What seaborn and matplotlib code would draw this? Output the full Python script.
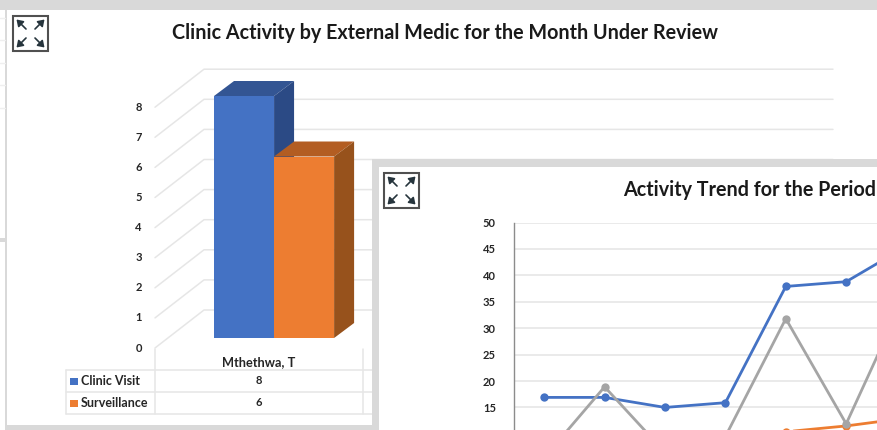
#!/usr/bin/env python3
"""Clinic activity dashboard crop: 3D style bar chart with a line chart panel on top."""
import pandas as pd
import matplotlib
matplotlib.use('Agg')
import matplotlib.pyplot as plt
from matplotlib.patches import Polygon, Rectangle
import seaborn as sns

W, H = 877, 430
BLUE, ORANGE, GREY = '#4472C4', '#ED7D31', '#A5A5A5'
LINE = '#E6E6E6'
CHROME = '#D9D9D9'
INK = '#262626'

# bar chart data
medics = ['Mthethwa, T']
activity = ['Clinic Visit', 'Surveillance']
activity_counts = [8, 6]
bar_ticks = [0, 1, 2, 3, 4, 5, 6, 7, 8]

# line chart data (first orange points are hidden below the crop, estimated)
periods = [0, 1, 2, 3, 4, 5, 6]
clinic_trend = [16.9, 16.9, 15.0, 15.9, 37.9, 38.8, 45.5]
surveillance_trend = [5, 6, 8, 9, 10.4, 11.5, 13]
other_trend = [5.5, 18.9, 6.5, 9.5, 31.8, 11.9, 36.8]
trend_ticks = [15, 20, 25, 30, 35, 40, 45, 50]


def px_axes(fig, left, top, right, bottom, zorder):
    # axes placed by image pixels, y measured from the top
    ax = fig.add_axes([left / W, 1 - bottom / H, (right - left) / W, (bottom - top) / H], zorder=zorder)
    return ax


def overlay(fig, zorder):
    ax = px_axes(fig, 0, 0, W, H, zorder)
    ax.set_xlim(0, W)
    ax.set_ylim(H, 0)
    ax.axis('off')
    ax.patch.set_alpha(0)
    return ax


def expand_icon(ax, x, y, size=35):
    ax.add_patch(Rectangle((x, y), size, size, fc='white', ec='#505050', lw=1.5))
    inner, outer = 13, 3.5
    for sx, sy in [(0, 0), (1, 0), (0, 1), (1, 1)]:
        x0 = x + (size - inner if sx else inner)
        y0 = y + (size - inner if sy else inner)
        x1 = x + (size - outer if sx else outer)
        y1 = y + (size - outer if sy else outer)
        ax.annotate('', xy=(x1, y1), xytext=(x0, y0),
                    arrowprops=dict(arrowstyle='-|>,head_width=0.2,head_length=0.3', color='#26343c', lw=1.2,
                                    shrinkA=0, shrinkB=0))


def main():
    sns.set_theme(style='white')
    plt.rcParams['font.family'] = ['Lato', 'DejaVu Sans']
    fig = plt.figure(figsize=(W / 100, H / 100), dpi=100, facecolor='white')

    # first panel: chrome, back wall, table
    back = overlay(fig, 0)
    back.add_patch(Rectangle((0, 0), W, 10, fc=CHROME, ec='none'))
    back.add_patch(Rectangle((5, 10), 2, 420, fc=CHROME, ec='none'))
    back.add_patch(Rectangle((5, 425), 373, 5, fc=CHROME, ec='none'))
    back.add_patch(Rectangle((0, 238), 5, 4, fc=CHROME, ec='none'))
    for y in [18, 40, 63, 85, 108]:
        back.plot([0, 5], [y, y], color='#EFEFEF', lw=1)
    for v in bar_ticks:
        y_front = 348 - v * 30.1
        y_back = 310 - v * 30.1
        back.plot([155, 204, 833], [y_front, y_back, y_back], color=LINE, lw=1.1)
        back.text(138.5, y_front, str(v), ha='center', va='center', fontsize=8, fontweight='bold', color=INK)
    back.text(259, 362, medics[0], ha='center', va='center', fontsize=9.2, fontweight='bold', color=INK)
    for y in [370, 392, 414]:
        back.plot([66, 372], [y, y], color=LINE, lw=1.1)
    back.plot([66, 66], [370, 414], color=LINE, lw=1.1)
    for x in [155, 363]:
        back.plot([x, x], [349, 414], color=LINE, lw=1.1)
    for name, count, color, y in zip(activity, activity_counts, [BLUE, ORANGE], [381, 403]):
        back.add_patch(Rectangle((70, y - 3.5), 8, 7, fc=color, ec='none'))
        back.text(81, y, name, ha='left', va='center', fontsize=9, fontweight='bold', color=INK)
        back.text(259, y, str(count), ha='center', va='center', fontsize=8, fontweight='bold', color=INK)
    back.text(444.5, 33, 'Clinic Activity by External Medic for the Month Under Review', ha='center', va='center',
              fontsize=14.2, fontweight='bold', color='#1a1a1a')
    expand_icon(back, 13, 16)

    # bars
    ax = px_axes(fig, 154, 96, 833, 338, 1)
    bars = pd.DataFrame({'medic': medics * 2, 'activity': activity, 'count': activity_counts})
    sns.barplot(data=bars, x='medic', y='count', hue='activity', palette=[BLUE, ORANGE], width=0.58,
                saturation=1, legend=False, linewidth=0, ax=ax)
    ax.set_xlim(-0.58, 2.70)
    ax.set_ylim(0, 8)
    ax.axis('off')
    ax.patch.set_alpha(0)
    dx, dy = 20 / 207, 15 / 30.25
    shades = [('#335593', '#2B4A85'), ('#B35D22', '#97521C')]
    for bar, (top_c, side_c) in zip(ax.patches, shades):
        x0, x1, h = bar.get_x(), bar.get_x() + bar.get_width(), bar.get_height()
        ax.add_patch(Polygon([(x0, h), (x1, h), (x1 + dx, h + dy), (x0 + dx, h + dy)], fc=top_c, ec='none',
                             clip_on=False, zorder=bar.get_zorder() - 0.1))
        ax.add_patch(Polygon([(x1, 0), (x1 + dx, dy), (x1 + dx, h + dy), (x1, h)], fc=side_c, ec='none',
                             clip_on=False, zorder=bar.get_zorder() - 0.1))
    # orange sits in front of the blue side face
    ax.patches[1].set_zorder(5)

    # second panel chrome
    front = overlay(fig, 2)
    front.add_patch(Rectangle((372, 159), W - 372, H - 159, fc=CHROME, ec='none'))
    front.add_patch(Rectangle((379, 167), W - 379, H - 167, fc='white', ec='none'))
    front.text(749.5, 190, 'Activity Trend for the Period', ha='center', va='center', fontsize=14.2,
               fontweight='bold', color='#1a1a1a')
    expand_icon(front, 384, 173)

    # trend lines, the axes run past the bottom and right of the crop
    ax2 = px_axes(fig, 514, 222.5, W, 486.7, 3)
    trend = pd.DataFrame({
        'period': periods * 3,
        'series': ['Clinic Visit'] * 7 + ['Surveillance'] * 7 + ['Other'] * 7,
        'value': clinic_trend + surveillance_trend + other_trend,
    })
    sns.lineplot(data=trend, x='period', y='value', hue='series', palette=[BLUE, ORANGE, GREY], marker='o',
                 markersize=6, markeredgewidth=0, linewidth=2, legend=False, ax=ax2)
    ax2.set_xlim(-0.5, 5.51)
    ax2.set_ylim(0, 50)
    ax2.set_yticks(trend_ticks)
    ax2.set_yticklabels([str(t) for t in trend_ticks], fontsize=8, fontweight='bold', color=INK)
    ax2.set_xticks([])
    ax2.set_xlabel('')
    ax2.set_ylabel('')
    ax2.tick_params(axis='y', length=0, pad=13)
    ax2.grid(axis='y', color=LINE, lw=1.2)
    ax2.set_axisbelow(True)
    ax2.patch.set_alpha(0)
    sns.despine(ax=ax2, top=True, right=True, bottom=True)
    ax2.spines['left'].set_color('#8C8C8C')
    ax2.spines['left'].set_linewidth(1)

    fig.savefig('out.png', dpi=100)
    plt.close(fig)


if __name__ == '__main__':
    main()
